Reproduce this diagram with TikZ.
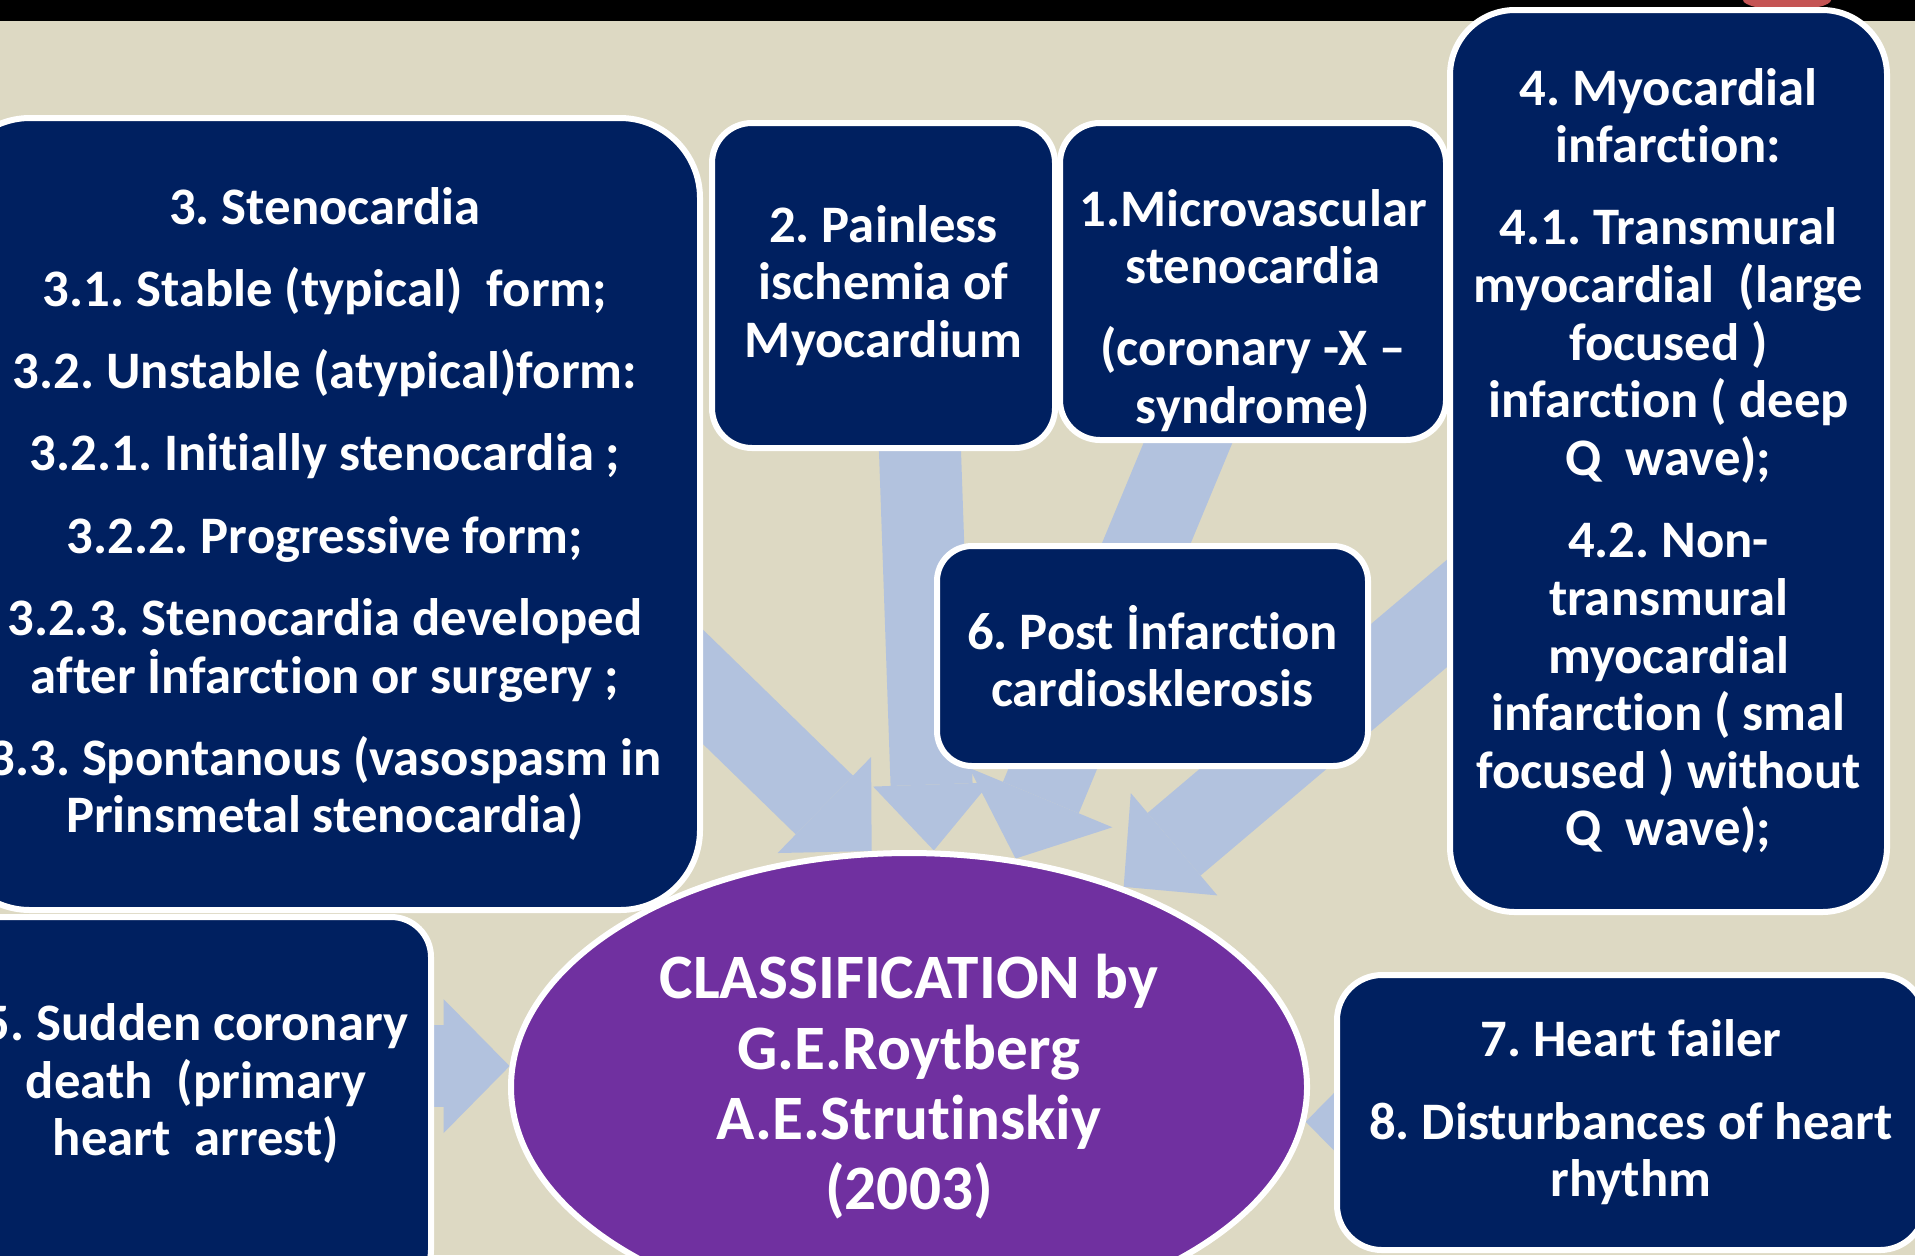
\documentclass[tikz,border=0pt]{standalone}
\usepackage{fontspec}
\setmainfont{Carlito}[Ligatures=NoCommon]
\frenchspacing
\usetikzlibrary{arrows.meta,positioning,calc,shapes.geometric,backgrounds}
\definecolor{navy}{RGB}{0,32,96}
\definecolor{purple2}{RGB}{112,48,160}
\definecolor{beige}{RGB}{221,217,195}
\definecolor{arrowblue}{RGB}{178,194,222}
\definecolor{red2}{RGB}{196,84,84}
\tikzset{
  topicbox/.style={draw=white, line width=0.6mm, fill=navy, text=white,
    align=center, inner sep=0pt, font=\fontsize{15}{16.4}\selectfont\bfseries},
  boxtext/.style={text=white, align=center, font=\fontsize{15}{16.4}\selectfont\bfseries},
  centerell/.style={ellipse, draw=white, line width=0.6mm, fill=purple2, text=white,
    align=center, inner sep=0pt, font=\fontsize{18}{20}\selectfont\bfseries},
  fatarrow/.style={arrowblue, line width=8.2mm, -{Triangle[width=#1, length=6.6mm, line width=0pt]}},
  fatarrow/.default=13.4mm
}
\begin{document}
\begin{tikzpicture}
\useasboundingbox (0,0) rectangle (19.15,-12.55);

% Left column
\node[topicbox, rounded corners=8mm, minimum width=75mm, minimum height=79.2mm] (steno) at (3.25,-5.14)
  {3. Stenocardia\\[7pt]3.1. Stable (typical)~ form;\\[7pt]3.2. Unstable (atypical)form:\\[7pt]3.2.1. Initially stenocardia ;\\[7pt]3.2.2. Progressive form;\\[7pt]3.2.3. Stenocardia developed\\after İnfarction or surgery ;\\[7pt]3.3. Spontanous (vasospasm in\\Prinsmetal stenocardia)};
\node[topicbox, rounded corners=4mm, minimum width=47mm, minimum height=37.3mm,
  label={[boxtext, yshift=2mm]center:{5. Sudden coronary\\death~ (primary\\heart~ arrest)}}] (sudden) at (1.96,-11.035) {};

% Top row
\node[topicbox, rounded corners=4mm, minimum width=34.3mm, minimum height=32.5mm] (painless) at (8.835,-2.855)
  {2. Painless\\ischemia of\\Myocardium};
\node[topicbox, rounded corners=4mm, minimum width=38.6mm, minimum height=31.7mm,
  label={[boxtext, yshift=-2.9mm]center:{1.Microvascular\\stenocardia\\[7pt](coronary -X –\\syndrome)}}] (micro) at (12.53,-2.815) {};
\node[topicbox, rounded corners=3.5mm, minimum width=43.1mm, minimum height=22mm] (post) at (11.525,-6.56)
  {6. Post İnfarction\\cardiosklerosis};

% Right column
\node[topicbox, rounded corners=6.5mm, minimum width=43.7mm, minimum height=90.2mm] (mi) at (16.685,-4.61)
  {4. Myocardial\\infarction:\\[7pt]4.1. Transmural\\myocardial~ (large\\focused )\\infarction ( deep\\Q~ wave);\\[7pt]4.2. Non-\\transmural\\myocardial\\infarction ( smal\\focused ) without\\Q~ wave);};
\node[topicbox, rounded corners=4.5mm, minimum width=58.8mm, minimum height=27.5mm] (hf) at (16.31,-11.125)
  {7. Heart failer\\[7pt]8. Disturbances of heart\\rhythm};

% Centre
\node[centerell, minimum width=79.6mm, minimum height=46.8mm] (class) at (9.09,-10.87)
  {CLASSIFICATION by\\G.E.Roytberg\\A.E.Strutinskiy\\(2003)};

\begin{scope}[on background layer]
\fill[beige] (0,0) rectangle (19.15,-12.55);
\fill[black] (0,0) rectangle (19.15,-0.21);
\fill[red2] (17.87,0) ellipse (0.44 and 0.1);
% Connections
\draw[fatarrow] ($(steno.east)+(-0.8,-0.95)$) -- (class.99);
\draw[fatarrow=11.7mm] ($(painless.south)+(0.33,1)$) -- (class.84);
\draw[fatarrow=15.5mm] ($(micro.south)+(-0.29,0.87)$) -- (class.65);
\draw[fatarrow] ($(mi.west)+(0.56,-1.05)$) -- (class.43);
\draw[fatarrow] ($(sudden.east |- class.177)+(-1,0)$) -- (class.177);
\draw[fatarrow] ($(hf.west |- class.-5)+(1,0)$) -- (class.-5);
\end{scope}
\end{tikzpicture}
\end{document}
